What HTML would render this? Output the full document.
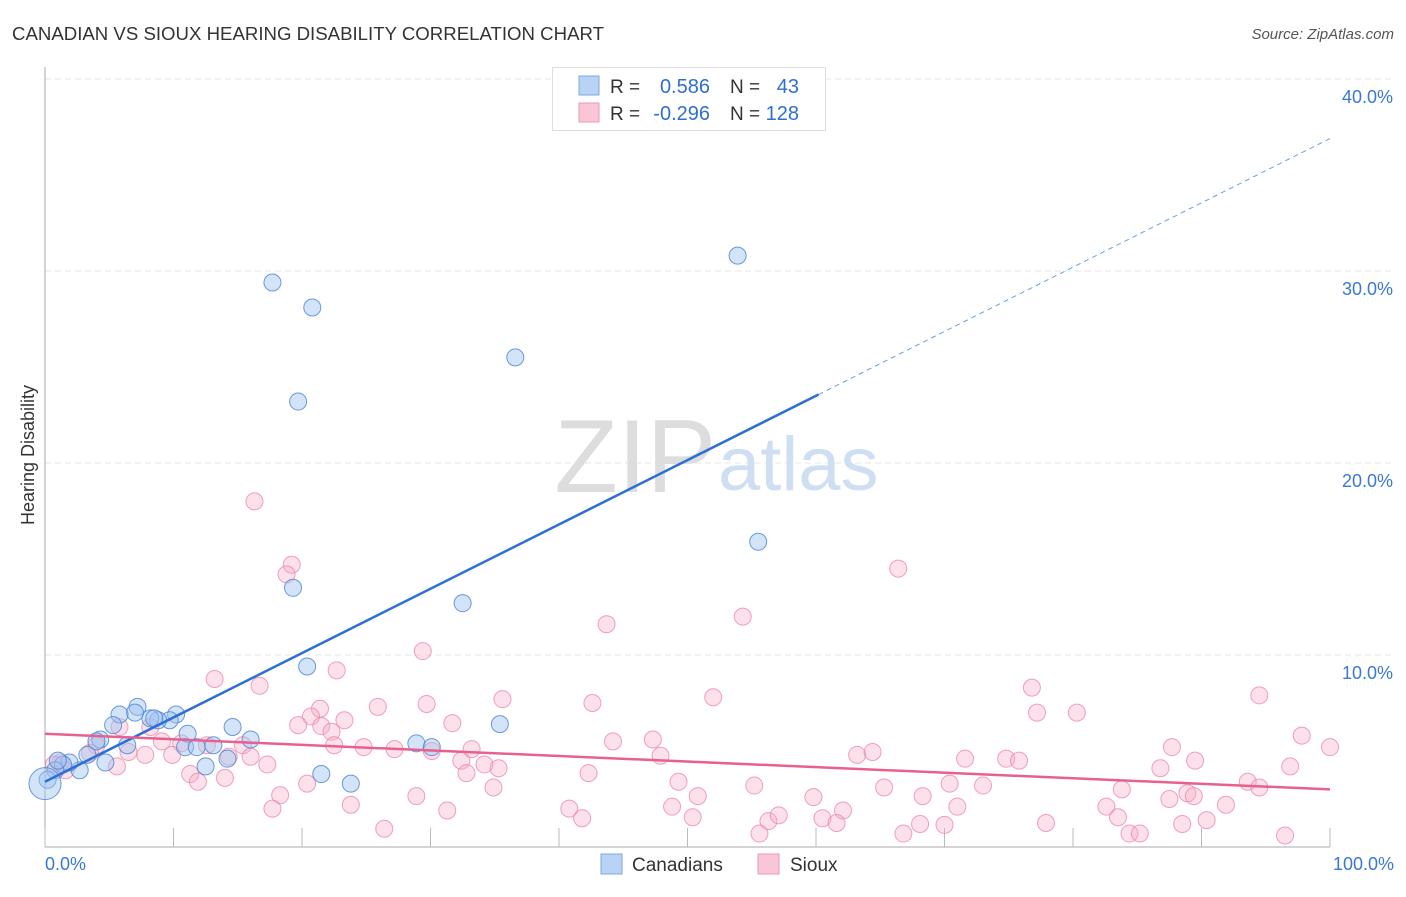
<!DOCTYPE html>
<html><head><meta charset="utf-8"><style>
body{margin:0;background:#fff;font-family:"Liberation Sans",sans-serif}
svg text{font-family:"Liberation Sans",sans-serif}
</style></head><body>
<svg id="chart" width="1406" height="892" xmlns="http://www.w3.org/2000/svg">
<text x="12" y="40" font-size="18" fill="#333" textLength="592" lengthAdjust="spacingAndGlyphs">CANADIAN VS SIOUX HEARING DISABILITY CORRELATION CHART</text>
<text x="1394" y="39" font-size="15" fill="#555" font-style="italic" text-anchor="end">Source: ZipAtlas.com</text>
<g id="grid"></g>
<text x="716" y="492" font-size="104" font-family="Liberation Serif" fill="#ddd" text-anchor="end">ZIP</text>
<text x="718" y="490" font-size="76" fill="#cfdff3">atlas</text>
<g id="marks"></g>
<text x="34" y="455" font-size="18" fill="#333" text-anchor="middle" transform="rotate(-90 34 455)">Hearing Disability</text>
<g>
<rect x="552.5" y="67.5" width="273" height="63" fill="#fff" stroke="#ddd"/>
<rect x="579" y="76" width="20" height="19" fill="#b9d3f5" stroke="#7aa8e6"/>
<rect x="579" y="103" width="20" height="19" fill="#f9c6d5" stroke="#ec98b2"/>
<text x="610" y="93" font-size="19" fill="#333">R =</text>
<text x="710" y="93" font-size="20" fill="#2f6fd1" text-anchor="end">0.586</text>
<text x="730" y="93" font-size="19" fill="#333">N =</text>
<text x="799" y="93" font-size="20" fill="#2f6fd1" text-anchor="end">43</text>
<text x="610" y="120" font-size="19" fill="#333">R =</text>
<text x="710" y="120" font-size="20" fill="#2f6fd1" text-anchor="end">-0.296</text>
<text x="730" y="120" font-size="19" fill="#333">N =</text>
<text x="799" y="120" font-size="20" fill="#2f6fd1" text-anchor="end">128</text>
</g>
<g>
<rect x="601" y="854" width="21" height="20" fill="#b9d3f5" stroke="#7aa8e6"/>
<text x="632" y="871" font-size="19" fill="#333">Canadians</text>
<rect x="758" y="854" width="21" height="20" fill="#f9c6d5" stroke="#ec98b2"/>
<text x="790" y="871" font-size="19" fill="#333">Sioux</text>
</g>
</svg>
<script>
const yTicks=[10,20,30,40];
const yTickLabels=["10.0%","20.0%","30.0%","40.0%"];
const xTicks=[0,10,20,30,40,50,60,70,80,90,100];
const xEndLabels=["0.0%","100.0%"];
const canX=[17.7,20.8,19.7,36.6,53.9,55.5,19.3,32.5,20.4,35.4,28.9,30.1,21.5,23.8,14.6,16.0,11.1,10.2,9.7,8.8,8.2,7.2,7.0,5.8,5.3,4.3,4.0,6.4,10.9,11.8,13.1,12.5,14.2,4.7,3.3,2.7,1.9,1.4,0.8,0.2,0,1.0,8.5];
const canY=[29.4,28.1,23.2,25.5,30.8,15.9,13.5,12.7,9.4,6.4,5.4,5.2,3.8,3.3,6.25,5.6,5.9,6.9,6.6,6.6,6.7,7.3,7.0,6.9,6.35,5.6,5.5,5.3,5.2,5.2,5.3,4.2,4.6,4.4,4.8,4.0,4.4,4.3,4.0,3.5,3.3,4.5,6.7];
const siouxX=[16.3,19.2,18.8,66.4,43.7,54.3,29.4,13.2,16.7,22.7,35.6,52.0,42.6,29.7,25.9,21.4,76.8,77.2,80.3,94.5,97.8,100,31.7,23.3,20.7,19.7,21.5,22.3,8.2,5.8,9.1,10.6,12.6,44.2,47.3,22.5,24.8,27.2,30.1,33.2,63.2,64.4,71.6,74.8,75.8,87.7,89.5,6.5,4.0,7.8,9.9,14.3,15.4,16.0,5.6,1.2,0.7,1.6,3.5,11.3,11.9,14.0,17.3,32.4,34.2,35.3,32.8,47.9,49.3,42.3,55.2,70.4,73.0,86.8,96.9,93.6,94.5,88.9,89.4,87.5,83.8,91.9,82.6,65.3,68.3,71.0,59.8,50.8,48.8,62.1,34.9,28.9,23.8,20.4,18.3,17.7,40.8,41.8,31.3,26.4,50.4,56.3,57.1,55.6,60.5,61.6,66.8,68.1,70.0,77.9,83.5,84.4,85.2,88.5,90.4,96.5];
const siouxY=[18.0,14.7,14.2,14.5,11.6,12.0,10.2,8.75,8.4,9.2,7.7,7.8,7.5,7.45,7.3,7.2,8.3,7.0,7.0,7.9,5.8,5.2,6.45,6.6,6.8,6.35,6.3,6.0,6.25,6.25,5.5,5.4,5.3,5.5,5.6,5.3,5.2,5.1,5.0,5.1,4.8,4.95,4.6,4.6,4.5,5.2,4.5,4.95,5.3,4.8,4.8,4.7,5.3,4.7,4.2,4.4,4.3,4.0,4.9,3.8,3.4,3.6,4.3,4.5,4.3,4.1,3.85,4.75,3.4,3.85,3.2,3.3,3.2,4.1,4.2,3.4,3.1,2.8,2.65,2.5,3.0,2.2,2.1,3.1,2.65,2.1,2.6,2.65,2.1,1.9,3.1,2.65,2.2,3.3,2.7,2.0,2.0,1.5,1.9,0.95,1.55,1.35,1.65,0.7,1.5,1.25,0.7,1.2,1.15,1.25,1.55,0.7,0.7,1.2,1.4,0.6];
const canTrend=[3.4,0.335];   // intercept, slope
const siouxTrend=[5.9,-0.029];
const canSolidEnd=60.2;

const X0=45,X1=1330,Y0=847,PPY=19.2;
const sx=v=>X0+(X1-X0)*v/100;
const sy=v=>Y0-v*PPY;
const NS="http://www.w3.org/2000/svg";
function mk(tag,attrs,parent){const e=document.createElementNS(NS,tag);for(const k in attrs)e.setAttribute(k,attrs[k]);parent.appendChild(e);return e;}
const grid=document.getElementById('grid'),marks=document.getElementById('marks');
yTicks.forEach((t,i)=>{
  const l=mk('line',{x1:X0,x2:1394,y1:sy(t),y2:sy(t),stroke:'#e6e6e6','stroke-dasharray':'6,4'},grid);
  
  
  const tx=mk('text',{x:1393,y:sy(t)+24,'font-size':18,fill:'#3a78d6','text-anchor':'end'},grid);
  tx.textContent=yTickLabels[i];
  
  
});
const ax=mk('line',{x1:X0,x2:X0,y1:67,y2:Y0,stroke:'#aaa'},grid);


const bx=mk('line',{x1:X0,x2:X1,y1:Y0,y2:Y0,stroke:'#aaa'},grid);


xTicks.forEach(t=>{
  const l=mk('line',{x1:sx(t),x2:sx(t),y1:828,y2:Y0,stroke:'#bbb'},grid);
  
  
});
[[0,'start',X0],[100,'end',1394]].forEach((d,i)=>{
  const tx=mk('text',{x:d[2],y:870,'font-size':18,fill:'#3a78d6','text-anchor':d[1]},grid);
  tx.textContent=xEndLabels[i];
  
  
});
siouxX.forEach((x,i)=>{
  const c=mk('circle',{cx:sx(x),cy:sy(siouxY[i]),r:8.5,fill:'rgba(246,170,195,0.35)',stroke:'rgba(236,130,165,0.75)','stroke-width':1},marks);
  
  
});
canX.forEach((x,i)=>{
  const c=mk('circle',{cx:sx(x),cy:sy(canY[i]),r:(i==40?16:8.5),fill:'rgba(160,195,240,0.45)',stroke:'rgba(70,130,215,0.8)','stroke-width':1},marks);
  
  
});
const f=(t,x)=>t[0]+t[1]*x;
const bl=mk('line',{x1:sx(0),y1:sy(f(canTrend,0)),x2:sx(canSolidEnd),y2:sy(f(canTrend,canSolidEnd)),stroke:'#2a6fd6','stroke-width':2.5},marks);


const bd=mk('line',{x1:sx(canSolidEnd),y1:sy(f(canTrend,canSolidEnd)),x2:sx(100),y2:sy(f(canTrend,100)),stroke:'#6d9de0','stroke-width':1,'stroke-dasharray':'5,4'},marks);


const pl=mk('line',{x1:sx(0),y1:sy(f(siouxTrend,0)),x2:sx(100),y2:sy(f(siouxTrend,100)),stroke:'#e8608e','stroke-width':2.5},marks);


</script>
</body></html>
